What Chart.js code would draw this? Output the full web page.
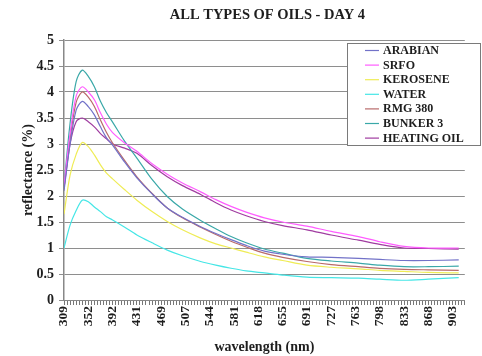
<!DOCTYPE html>
<html>
<head>
<meta charset="utf-8">
<script src="https://cdn.jsdelivr.net/npm/chart.js@4/dist/chart.umd.min.js"></script>
<style>
  html, body { margin: 0; padding: 0; background: #fff; }
  #wrap { width: 482px; height: 356px; }
</style>
</head>
<body>
<div id="wrap"><canvas id="oilChart"></canvas></div>
<script>
  // category axis labels (every 8th sample of the spectrometer)
  var wavelengthLabels = ['309', '352', '392', '431', '469', '507', '544', '581', '618',
                          '655', '691', '727', '763', '798', '833', '868', '903'];

  // sample numbers the values below were read at
  var sampleIndex = [0, 2, 4, 6, 8, 10, 12, 14, 16, 20, 24, 29, 34, 39, 45, 50, 55, 60, 66, 72, 80, 88, 97, 104, 112, 120, 130];

  var arabian    = [2.1, 3.0, 3.65, 3.82, 3.72, 3.56, 3.33, 3.12, 2.98, 2.65, 2.35, 2.04, 1.77, 1.59, 1.41, 1.28, 1.16, 1.05, 0.94, 0.88, 0.83, 0.82, 0.8, 0.78, 0.76, 0.76, 0.77];
  var srfo       = [2.2, 3.2, 3.92, 4.1, 4.0, 3.85, 3.6, 3.38, 3.22, 3.02, 2.86, 2.62, 2.42, 2.25, 2.08, 1.93, 1.8, 1.69, 1.58, 1.5, 1.42, 1.32, 1.22, 1.12, 1.03, 1.0, 1.0];
  var kerosene   = [1.65, 2.4, 2.8, 3.03, 2.95, 2.79, 2.6, 2.44, 2.33, 2.12, 1.92, 1.7, 1.51, 1.35, 1.19, 1.08, 1.0, 0.92, 0.83, 0.76, 0.67, 0.63, 0.6, 0.57, 0.55, 0.53, 0.52];
  var water      = [1.0, 1.44, 1.72, 1.92, 1.89, 1.79, 1.7, 1.6, 1.54, 1.4, 1.25, 1.1, 0.96, 0.85, 0.74, 0.67, 0.61, 0.56, 0.52, 0.48, 0.44, 0.43, 0.42, 0.4, 0.38, 0.4, 0.43];
  var rmg380     = [2.15, 3.1, 3.8, 4.0, 3.9, 3.72, 3.46, 3.22, 3.02, 2.68, 2.37, 2.05, 1.77, 1.58, 1.4, 1.26, 1.13, 1.02, 0.9, 0.82, 0.74, 0.68, 0.64, 0.61, 0.59, 0.58, 0.57];
  var bunker3    = [2.2, 3.4, 4.2, 4.42, 4.3, 4.1, 3.82, 3.6, 3.42, 3.05, 2.73, 2.32, 1.99, 1.75, 1.53, 1.37, 1.22, 1.1, 0.98, 0.9, 0.8, 0.75, 0.71, 0.67, 0.64, 0.64, 0.65];
  var heatingOil = [2.15, 3.0, 3.43, 3.5, 3.43, 3.33, 3.2, 3.1, 3.0, 2.92, 2.82, 2.58, 2.37, 2.2, 2.03, 1.87, 1.73, 1.62, 1.51, 1.43, 1.35, 1.25, 1.15, 1.07, 1.0, 0.99, 0.98];

  var seriesNames = ['ARABIAN', 'SRFO', 'KEROSENE', 'WATER', 'RMG 380', 'BUNKER 3', 'HEATING OIL'];
  var seriesData = [arabian, srfo, kerosene, water, rmg380, bunker3, heatingOil];
  var seriesColors = ['#7272c8', '#ff5cff', '#efec55', '#45e6e6', '#b86a6a', '#3aa8a8', '#a03ca0'];

  var serif = '"Liberation Serif", "Times New Roman", serif';

  function toPoints(values) {
    return sampleIndex.map(function(x, i) { return { x: x, y: values[i] }; });
  }

  var datasets = seriesNames.map(function(name, i) {
    return {
      label: name,
      data: toPoints(seriesData[i]),
      borderColor: seriesColors[i],
      backgroundColor: seriesColors[i],
      borderWidth: 1.2,
      pointRadius: 0,
      tension: 0.3,
      fill: false
    };
  });

  // title + boxed legend sitting inside the plot, like the original
  var decorPlugin = {
    id: 'decor',
    afterDraw: function(chart) {
      var ctx = chart.ctx;
      var area = chart.chartArea;
      ctx.save();
      ctx.fillStyle = '#1e1e1e';
      ctx.font = 'bold 14.5px ' + serif;
      ctx.textAlign = 'center';
      ctx.textBaseline = 'middle';
      ctx.fillText('ALL TYPES OF OILS - DAY 4', (area.left + area.right) / 2 + 3, 15);

      // legend box
      ctx.fillStyle = '#fff';
      ctx.fillRect(347.5, 43.5, 133, 102);
      ctx.strokeStyle = '#7a7a7a';
      ctx.lineWidth = 1;
      ctx.strokeRect(347.5, 43.5, 133, 102);
      ctx.font = 'bold 12px ' + serif;
      ctx.textAlign = 'left';
      chart.data.datasets.forEach(function(ds, i) {
        var y = 50.5 + i * 14.6;
        ctx.strokeStyle = ds.borderColor;
        ctx.lineWidth = 1.2;
        ctx.beginPath();
        ctx.moveTo(365, y);
        ctx.lineTo(379, y);
        ctx.stroke();
        ctx.fillStyle = '#1e1e1e';
        ctx.fillText(ds.label, 383, y + 0.5);
      });
      ctx.restore();
    }
  };

  var ctx = document.getElementById('oilChart').getContext('2d');
  var oilChart = new Chart(ctx, {
    type: 'line',
    data: { datasets: datasets },
    options: {
      responsive: true,
      maintainAspectRatio: false,
      animation: false,
      layout: { padding: { top: 40, right: 0, bottom: 0, left: 0 } },
      plugins: {
        legend: { display: false },
        title: { display: false },
        tooltip: { enabled: false }
      },
      scales: {
        x: {
          type: 'linear',
          min: 0,
          max: 132,
          afterFit: function(scale) { scale.height = 56; },
          grid: { drawOnChartArea: false, drawTicks: true, tickLength: 5, color: '#777' },
          border: { color: '#888' },
          ticks: {
            stepSize: 1,
            autoSkip: false,
            maxTicksLimit: 500,
            minRotation: 90,
            maxRotation: 90,
            padding: 1,
            color: '#1e1e1e',
            font: { family: serif, size: 13.5, weight: 'bold' },
            callback: function(value) {
              if (value % 8 === 0 && wavelengthLabels[value / 8]) return wavelengthLabels[value / 8];
              return '';
            }
          },
          title: {
            display: true,
            text: 'wavelength (nm)',
            color: '#1e1e1e',
            font: { family: serif, size: 14, weight: 'bold' },
            padding: { top: 0, bottom: 0 }
          }
        },
        y: {
          min: 0,
          max: 5,
          afterFit: function(scale) { scale.width = 64; },
          grid: { color: '#8e8e8e', lineWidth: 1, tickLength: 5 },
          border: { color: '#888', width: 1.5 },
          ticks: {
            stepSize: 0.5,
            padding: 5,
            color: '#1e1e1e',
            font: { family: serif, size: 14, weight: 'bold' },
            callback: function(value) { return String(value); }
          },
          title: {
            display: true,
            text: 'reflectance (%)',
            color: '#1e1e1e',
            font: { family: serif, size: 14, weight: 'bold' },
            padding: { top: 20, bottom: 0 }
          }
        }
      }
    },
    plugins: [decorPlugin]
  });
</script>
</body>
</html>
